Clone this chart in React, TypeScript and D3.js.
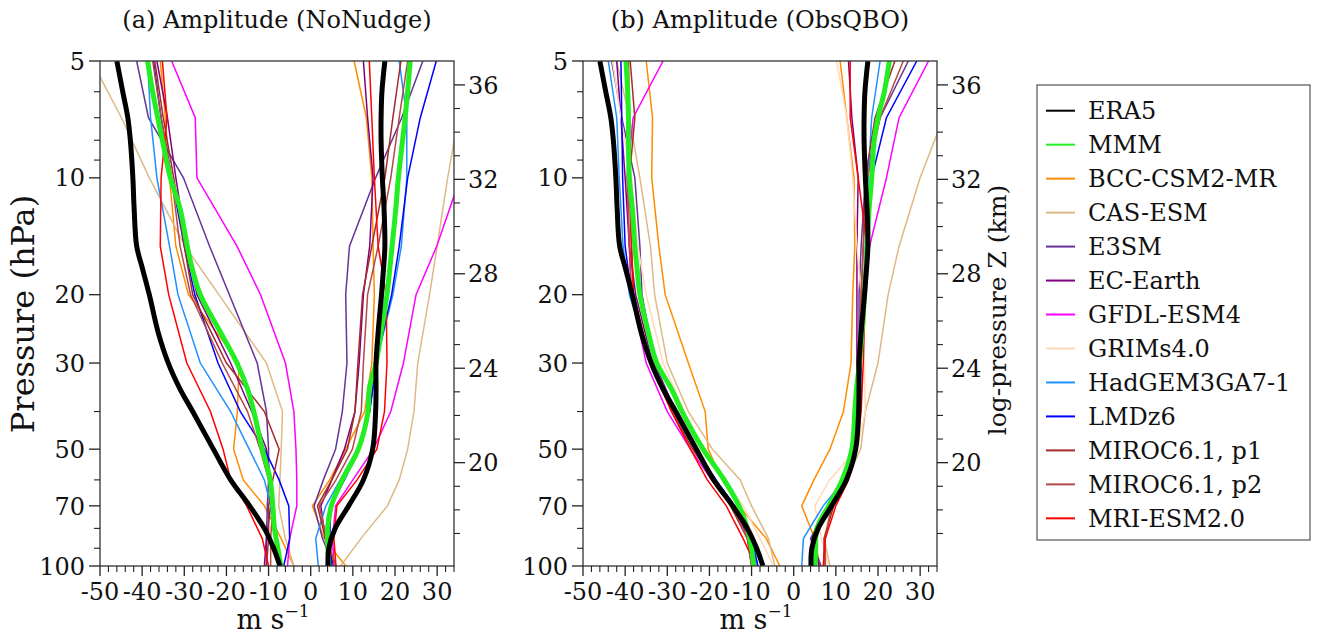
import React from "react";
import * as d3 from "d3";

// Pressure levels (hPa)
const P_FINE = [100, 90, 80, 70, 60, 50, 40, 35, 30, 25, 20, 17, 15, 12, 10, 8, 7, 6, 5];
const P_MODEL = [100, 85, 70, 60, 50, 40, 30, 20, 15, 10, 7, 5];

// ERA5 (same in both panels)
const ERA5_NEG = [-7.3, -8.8, -11, -14.5, -19, -23.1, -28, -31, -33.8, -36.2, -38.3, -40, -41.3, -41.9, -42.2, -42.8, -43.4, -44.6, -46];
const ERA5_POS = [4.1, 4.3, 5.8, 9, 12.5, 14.7, 15.4, 15.5, 15.5, 16, 16.8, 17.3, 17.6, 17.4, 17.0, 16.7, 16.7, 16.9, 17.6];

// Multi-model mean
const MMM_NEG_A = [-7.1, -7.8, -8.6, -9, -9.6, -11.5, -13.5, -15, -17.5, -21.4, -26.2, -28.2, -29.3, -31, -33.3, -35.2, -36.3, -37.5, -38.7];
const MMM_POS_A = [4.3, 4.1, 4.0, 4.9, 7.5, 11.3, 13.6, 13.9, 15.5, 16.7, 18.1, 18.8, 19.3, 20.2, 20.8, 21.8, 22.4, 23, 23.6];
const MMM_NEG_B = [-9.5, -10, -11, -13, -16.5, -21.5, -26.5, -29, -32.5, -34.5, -36.5, -37.2, -37.7, -38.3, -39, -39.2, -39.2, -39.4, -39.8];
const MMM_POS_B = [5.1, 5.2, 5.5, 8.3, 11.5, 13.8, 14.5, 14.9, 15.6, 16.2, 16.8, 17.2, 17.4, 17.9, 18.5, 19.1, 20.0, 21.5, 22.7];

const MODEL_NAMES = ["BCC-CSM2-MR", "CAS-ESM", "E3SM", "EC-Earth", "GFDL-ESM4", "GRIMs4.0", "HadGEM3GA7-1", "LMDz6", "MIROC6.1, p1", "MIROC6.1, p2", "MRI-ESM2.0"];
const MODEL_COLORS = ["#ff8c00", "#deb887", "#663399", "#800080", "#ff00ff", "#ffdab9", "#1e90ff", "#0000ff", "#a52a2a", "#b34a4a", "#ff0000"];

// Panel (a) NoNudge, levels P_MODEL
const NEG_A: (number[] | null)[] = [
  [-4, -7, -11, -16, -18.3, -17.4, -17, -29, -32, -33.5, -34.5, -35.7],
  [-4, -6, -7.6, -7.3, -7, -6.7, -10.5, -21.8, -29.8, -38.3, -44.9, -52],
  [-10.5, -10.5, -10.3, -10, -10, -10.5, -12.7, -19.3, -24, -30.2, -38.5, -41.3],
  [-11, -10.5, -9.5, -9.5, -10.5, -14, -19, -27, -29.5, -32, -34, -36.5],
  [-5.5, -5, -3.3, -3.3, -3.5, -4, -6, -11.9, -17.5, -27, -27.4, -33],
  null,
  [-7, -8, -9.5, -11, -14.6, -19, -26.2, -31.5, -33.5, -36.5, -38, -38.7],
  [-6.4, -5, -5.2, -7.5, -11, -16.7, -22, -27.5, -30, -33, -35.5, -37.3],
  [-10.5, -10, -10, -9, -7.5, -11, -20, -28, -30, -32.5, -35, -37],
  [-9.5, -9.5, -9, -10, -12, -15, -21, -28.5, -31, -33, -35.5, -37.5],
  [-10, -11.5, -15.2, -19, -20.8, -23.8, -29.4, -33.7, -35.7, -35.5, -34.1, -35.2],
];
const POS_A: (number[] | null)[] = [
  [8.3, 3.2, 0.4, 4.5, 8.3, 12.8, 14.5, 15.1, 14.8, 14.5, 13.2, 10.3],
  [7.1, 11.9, 18.2, 21, 23, 24.5, 25.4, 28.2, 30, 32.5, 35, 37],
  [5.5, 2.8, 0.8, 3, 5.9, 7.5, 8.6, 8.3, 9.2, 15.4, 21.6, 26.6],
  [5.5, 3.5, 2.4, 5, 8, 10.5, 11.5, 12.5, 14, 14.8, 13.5, 12.5],
  [5.5, 5.2, 5.9, 10, 14.9, 19, 22, 25, 29.9, 35.5, 40, 44],
  null,
  [1.8, 1.2, 3.6, 7, 11, 14, 15.5, 19.5, 21.5, 22.8, 22.8, 21],
  [5, 4.5, 4.8, 8, 11.5, 14, 15.5, 19.2, 21, 23, 26, 29.8],
  [6, 3.5, 1.6, 5, 8.7, 10.5, 11.2, 12.3, 14.5, 17.6, 19.5, 21.4],
  [6, 3.8, 2, 6, 9.9, 12, 12.5, 13.5, 16, 19, 21, 23],
  [6, 5.5, 6.2, 11, 15.7, 17.5, 18.1, 17.9, 16, 15.1, 14.5, 13.9],
];
// Panel (b) ObsQBO
const NEG_B: (number[] | null)[] = [
  [-3.3, -6.5, -13, -17, -20.3, -21, -25, -30.5, -32, -33.7, -33.5, -35],
  [-4.5, -6, -10, -12.7, -19.3, -25, -30, -33, -34, -36.5, -39, -42],
  [-9, -10.5, -14, -18.5, -23, -28, -33, -36, -36.5, -37.7, -40.8, -43.2],
  [-9.5, -10.5, -14.5, -18.5, -23, -28, -33.5, -37.5, -39, -40, -41, -42],
  [-9, -10, -14.5, -19.5, -24.5, -30, -35, -38.5, -39, -39.5, -38.1, -31],
  [-4.8, -8, -12, -16.5, -22, -26, -31, -35, -37, -38.5, -41, -43],
  [-8.5, -10, -14, -18.5, -23.5, -28.5, -34, -39, -40.5, -41.4, -42, -44],
  [-8.5, -10, -14, -18.5, -23.5, -28.5, -34, -38.5, -40, -40.6, -40.8, -41],
  [-10, -11, -15, -19, -24, -29, -34, -38, -38.5, -39, -37.7, -38.8],
  [-10, -11, -14.5, -19, -23.5, -28.5, -34, -38.5, -39, -39.5, -39, -39.5],
  [-9, -12, -16, -20.5, -24.5, -29, -34, -38, -38.5, -39, -39, -39.2],
];
const POS_B: (number[] | null)[] = [
  [6.2, 5, 1.9, 4.8, 8.6, 11.8, 13.6, 14, 14.5, 14.3, 12.6, 11],
  [8.6, 7.2, 9, 12.5, 15.9, 17, 20, 22.4, 25, 30, 35.5, 40],
  [6.5, 4, 8, 12, 14.5, 15.5, 15.5, 15.5, 16, 17, 20.5, 27.2],
  [6, 4.5, 8.5, 12.5, 14.5, 15, 15, 15, 15, 15.3, 13.8, 13],
  [5, 4.5, 9, 12.5, 14.5, 15, 15.5, 16.5, 18, 22, 25, 32],
  [8.2, 6.6, 5, 8.5, 15, 17, 16.8, 16, 15, 14, 12.6, 10.2],
  [1.9, 2.3, 7, 12, 14.5, 15.5, 16, 16.5, 17, 17.7, 18.5, 20.5],
  [4.5, 4.5, 8, 12, 14.5, 15.5, 16, 16.5, 17.5, 18.5, 22, 29.2],
  [7.2, 7.2, 9.5, 12.5, 14.5, 15, 15.5, 16, 16.5, 17, 19.3, 24],
  [7.5, 7.5, 9, 12.5, 14.5, 15, 15.5, 16, 16.5, 17.5, 20.5, 26],
  [7, 7.5, 10, 13, 15, 16, 16.5, 17, 17.4, 15.3, 13.4, 13.4],
];

const X_TICKS = [-50, -40, -30, -20, -10, 0, 10, 20, 30];
const P_TICKS = [5, 10, 20, 30, 50, 70, 100];
const P_MINOR = [6, 7, 8, 9, 40, 60, 80, 90];
const Z_TICKS = [20, 24, 28, 32, 36];
const Z_MINOR = [17, 18, 19, 21, 22, 23, 25, 26, 27, 29, 30, 31, 33, 34, 35];
const LEGEND_NAMES = ["ERA5", "MMM", ...MODEL_NAMES];
const LEGEND_COLORS = ["#000000", "#22ee22", ...MODEL_COLORS];

const TOP = 61;
const BOTTOM = 566;
const PW = 354;
const FONT = "DejaVu Serif";
const TICK_FS = 24;
const H_SCALE = 7.14;
const P0 = 891.8;
const zToP = (z: number) => P0 * Math.exp(-z / H_SCALE);

const yScale = d3.scaleLog().domain([100, 5]).range([BOTTOM, TOP]);

function Panel({ left, title, id, negM, posM, mmmNeg, mmmPos, showZLabel }: any) {
  const x = d3.scaleLinear().domain([-50, 34]).range([left, left + PW]);
  const right = left + PW;
  const line = d3.line<[number, number]>().x((d) => x(d[0])).y((d) => yScale(d[1]));
  const smooth = d3.line<[number, number]>().x((d) => x(d[0])).y((d) => yScale(d[1])).curve(d3.curveCatmullRom.alpha(0.5));
  const minorX = d3.range(-50, 35, 2).filter((v) => v % 10 !== 0);
  const toPts = (vals: number[], ps: number[]) => vals.map((v, i) => [v, ps[i]] as [number, number]);
  return (
    <g>
      <defs>
        <clipPath id={id}>
          <rect x={left} y={TOP} width={PW} height={BOTTOM - TOP} />
        </clipPath>
      </defs>
      <g clipPath={`url(#${id})`}>
        {MODEL_NAMES.map((n, i) => (
          <g key={n}>
            {negM[i] && <path d={line(toPts(negM[i], P_MODEL)) || ""} fill="none" stroke={MODEL_COLORS[i]} strokeWidth={1.5} />}
            {posM[i] && <path d={line(toPts(posM[i], P_MODEL)) || ""} fill="none" stroke={MODEL_COLORS[i]} strokeWidth={1.5} />}
          </g>
        ))}
        <path d={smooth(toPts(mmmNeg, P_FINE)) || ""} fill="none" stroke="#22ee22" strokeWidth={5} />
        <path d={smooth(toPts(mmmPos, P_FINE)) || ""} fill="none" stroke="#22ee22" strokeWidth={5} />
        <path d={smooth(toPts(ERA5_NEG, P_FINE)) || ""} fill="none" stroke="#000" strokeWidth={5} />
        <path d={smooth(toPts(ERA5_POS, P_FINE)) || ""} fill="none" stroke="#000" strokeWidth={5} />
      </g>
      <rect x={left} y={TOP} width={PW} height={BOTTOM - TOP} fill="none" stroke="#333" strokeWidth={1.3} />
      {X_TICKS.map((t) => (
        <g key={t}>
          <line x1={x(t)} x2={x(t)} y1={BOTTOM} y2={BOTTOM + 10} stroke="#222" strokeWidth={1.3} />
          <text x={x(t)} y={600} textAnchor="middle" fontFamily={FONT} fontSize={TICK_FS} fill="#111">{t}</text>
        </g>
      ))}
      {minorX.map((t) => (
        <line key={t} x1={x(t)} x2={x(t)} y1={BOTTOM} y2={BOTTOM + 6} stroke="#222" strokeWidth={1.1} />
      ))}
      {P_TICKS.map((p) => (
        <g key={p}>
          <line x1={left - 11} x2={left} y1={yScale(p)} y2={yScale(p)} stroke="#222" strokeWidth={1.3} />
          <text x={left - 15} y={yScale(p)} dy="0.36em" textAnchor="end" fontFamily={FONT} fontSize={TICK_FS} fill="#111">{p}</text>
        </g>
      ))}
      {P_MINOR.map((p) => (
        <line key={p} x1={left - 6} x2={left} y1={yScale(p)} y2={yScale(p)} stroke="#222" strokeWidth={1.1} />
      ))}
      {Z_TICKS.map((z) => (
        <g key={z}>
          <line x1={right} x2={right + 11} y1={yScale(zToP(z))} y2={yScale(zToP(z))} stroke="#222" strokeWidth={1.3} />
          <text x={right + 14} y={yScale(zToP(z))} dy="0.36em" textAnchor="start" fontFamily={FONT} fontSize={TICK_FS} fill="#111">{z}</text>
        </g>
      ))}
      {Z_MINOR.map((z) => (
        <line key={z} x1={right} x2={right + 6} y1={yScale(zToP(z))} y2={yScale(zToP(z))} stroke="#222" strokeWidth={1.1} />
      ))}
      <text x={left + PW / 2} y={28} textAnchor="middle" fontFamily={FONT} fontSize={24} fill="#111">{title}</text>
      <text x={left + PW / 2 - 4} y={629} textAnchor="middle" fontFamily={FONT} fontSize={27} fill="#111">
        m s<tspan dy={-12} fontSize={17}>−1</tspan>
      </text>
      {showZLabel && (
        <text transform={`translate(${right + 69},${310}) rotate(-90)`} textAnchor="middle" fontFamily={FONT} fontSize={25} fill="#111">log-pressure Z (km)</text>
      )}
    </g>
  );
}

export default function App() {
  const legX = 1037;
  const legY = 85;
  return (
    <svg width={1322} height={636} style={{ position: "absolute", left: 0, top: 0, background: "#fff" }}>
      <rect width={1322} height={636} fill="#fff" />
      <text transform={`translate(34,314) rotate(-90)`} textAnchor="middle" fontFamily={FONT} fontSize={32} fill="#111">Pressure (hPa)</text>
      <Panel left={100} id="clipA" title="(a) Amplitude (NoNudge)" negM={NEG_A} posM={POS_A} mmmNeg={MMM_NEG_A} mmmPos={MMM_POS_A} showZLabel={false} />
      <Panel left={583} id="clipB" title="(b) Amplitude (ObsQBO)" negM={NEG_B} posM={POS_B} mmmNeg={MMM_NEG_B} mmmPos={MMM_POS_B} showZLabel={true} />
      <rect x={legX} y={legY} width={273} height={455} fill="#fff" stroke="#555" strokeWidth={1.2} />
      {LEGEND_NAMES.map((n, i) => {
        const yy = 110.7 + i * 33.97;
        return (
          <g key={n}>
            <line x1={1046} x2={1075} y1={yy} y2={yy} stroke={LEGEND_COLORS[i]} strokeWidth={2} />
            <text x={1088} y={yy} dy="0.36em" fontFamily={FONT} fontSize={24} fill="#111">{n}</text>
          </g>
        );
      })}
    </svg>
  );
}
